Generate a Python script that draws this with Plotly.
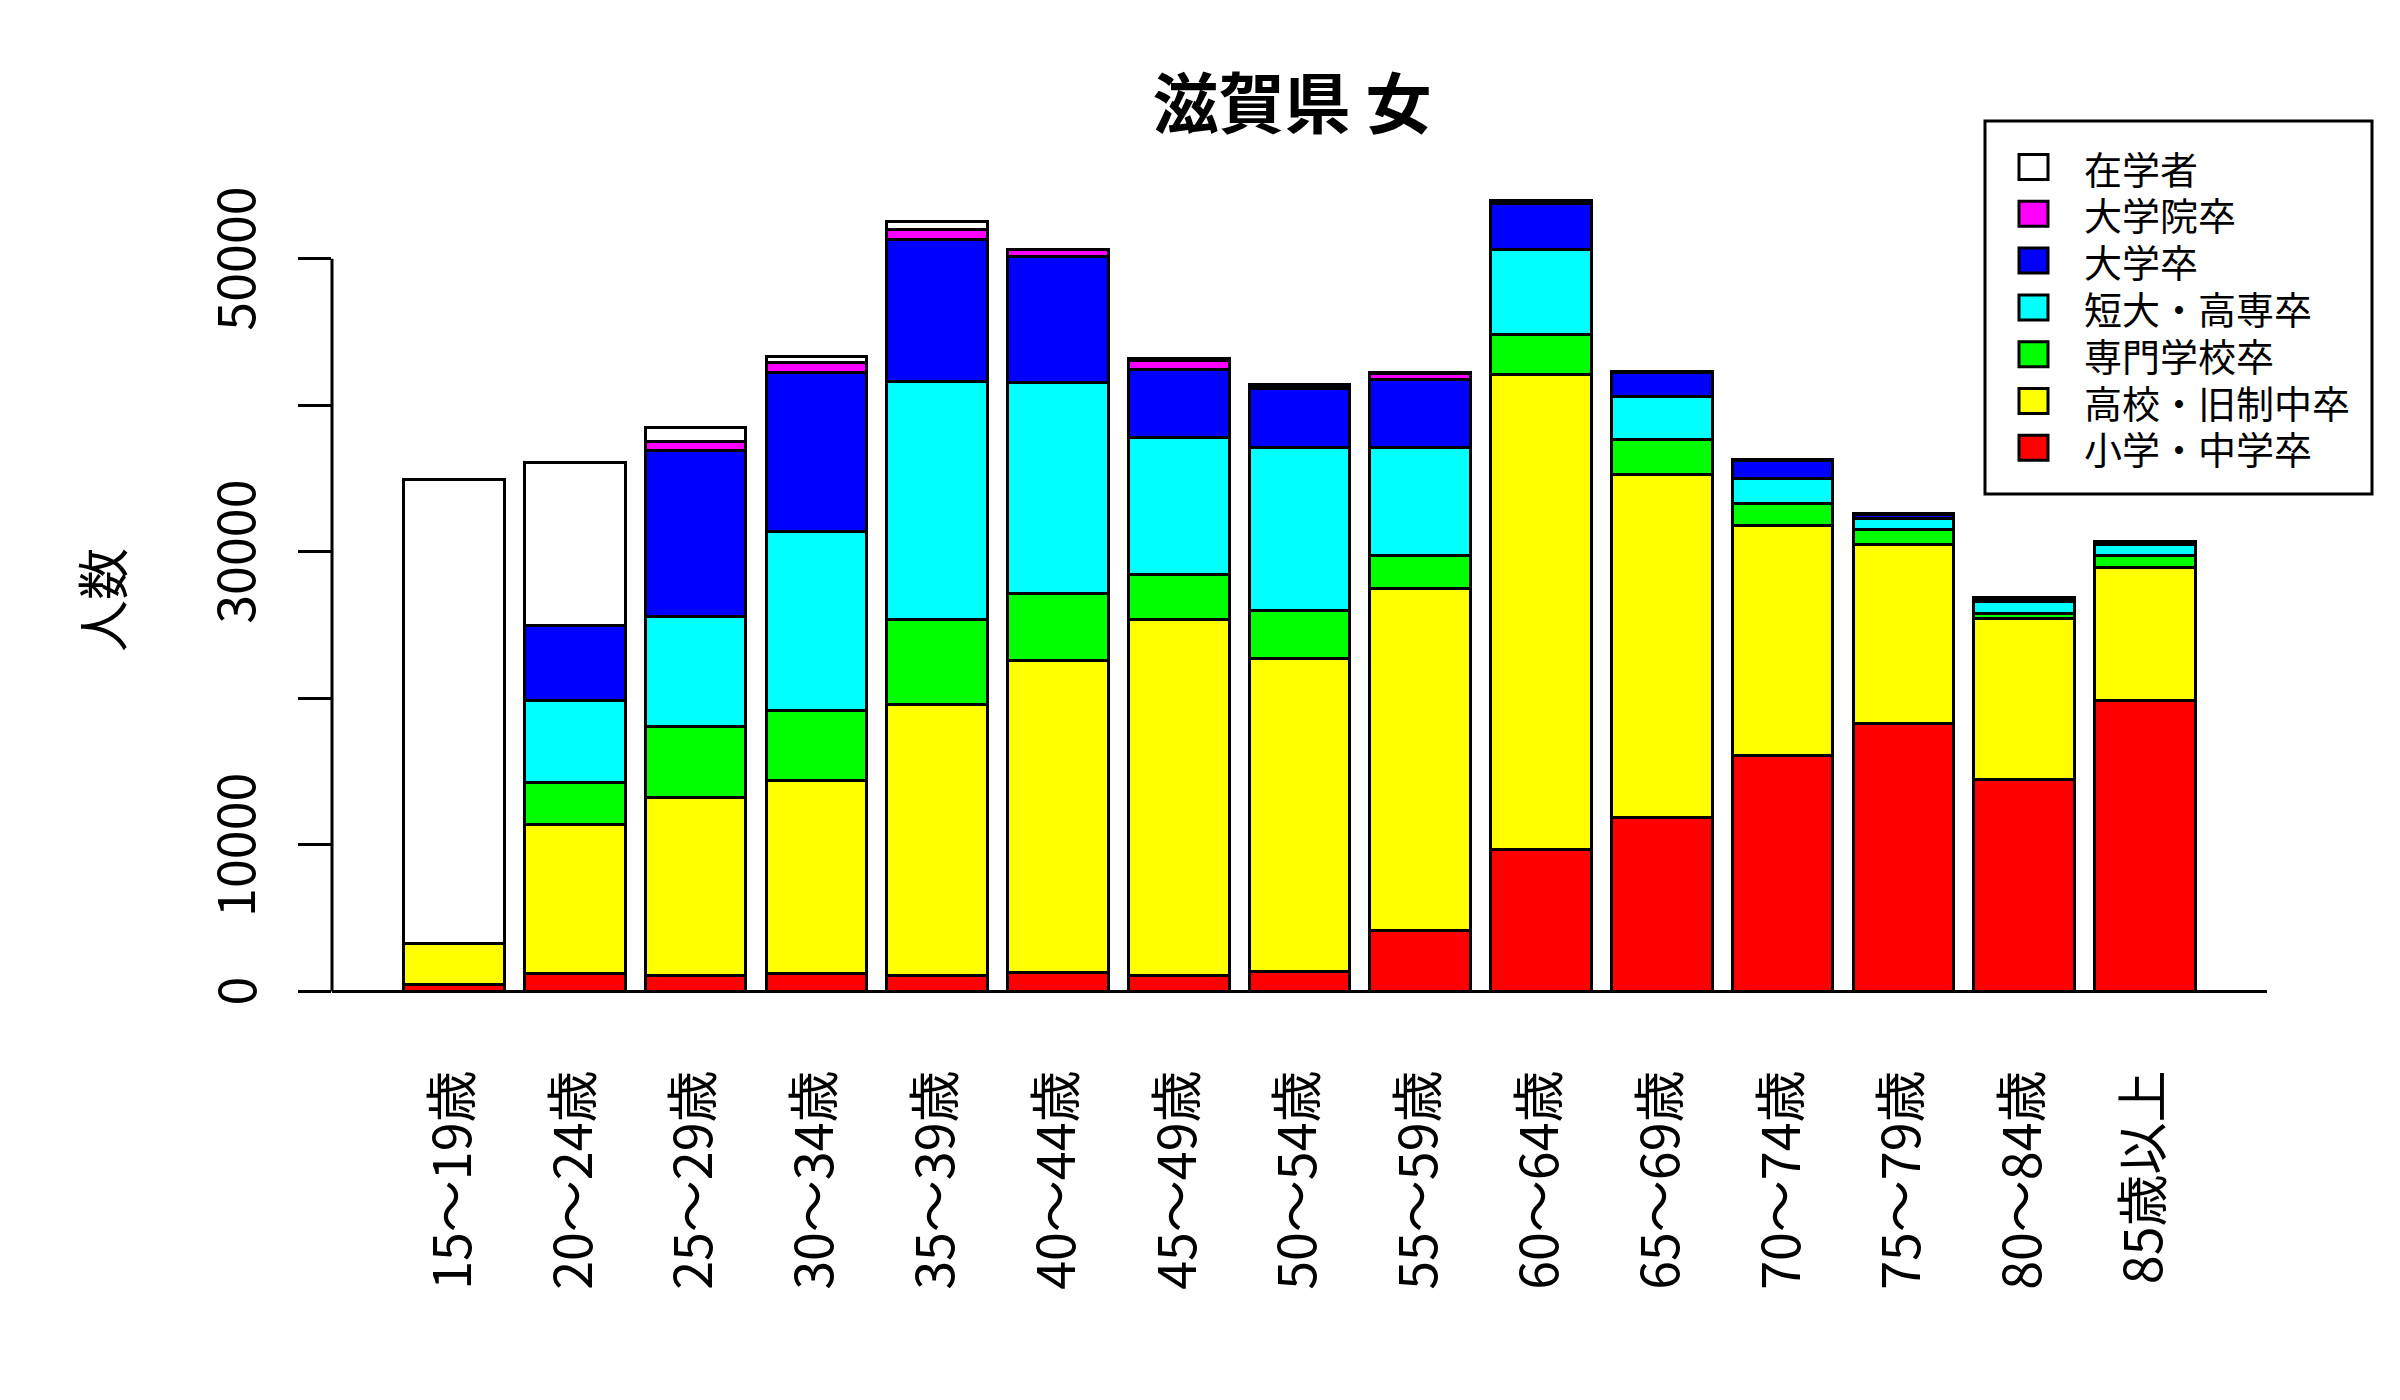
import plotly.graph_objects as go

# ---------------- data ----------------
age_groups = ["15～19歳", "20～24歳", "25～29歳", "30～34歳", "35～39歳", "40～44歳",
              "45～49歳", "50～54歳", "55～59歳", "60～64歳", "65～69歳", "70～74歳",
              "75～79歳", "80～84歳", "85歳以上"]

elementary = [500, 1260, 1080, 1260, 1120, 1300, 1080, 1370, 4150, 9710, 11850, 16070, 18310, 14450, 19830]
high_school = [2750, 10120, 12140, 13150, 18450, 21310, 24310, 21380, 23370, 32360, 23400, 15710, 12210, 10970, 9130]
vocational = [0, 2850, 4840, 4770, 5780, 4550, 3030, 3220, 2240, 2780, 2380, 1550, 970, 400, 800]
junior_college = [0, 5600, 7540, 12240, 16290, 14410, 9390, 11160, 7370, 5780, 3000, 1700, 800, 800, 720]
university = [0, 5120, 11340, 10800, 9680, 8590, 4660, 4040, 4620, 3110, 1620, 1230, 280, 210, 140]
graduate = [0, 30, 580, 720, 680, 440, 580, 180, 390, 120, 50, 30, 20, 20, 20]
students = [31670, 11110, 940, 400, 510, 0, 110, 70, 110, 100, 30, 30, 30, 30, 30]

series_names = ["小学・中学卒", "高校・旧制中卒", "専門学校卒", "短大・高専卒", "大学卒", "大学院卒", "在学者"]
series_values = [elementary, high_school, vocational, junior_college, university, graduate, students]
series_colors = ["#FF0000", "#FFFF00", "#00FF00", "#00FFFF", "#0000FF", "#FF00FF", "#FFFFFF"]

y_tick_values = [0, 10000, 20000, 30000, 40000, 50000]
y_tick_labels = ["0", "10000", "", "30000", "", "50000"]

title_text = "滋賀県 女"
y_title = "人数"

# ---------------- layout geometry ----------------
W, H = 2400, 1400
PL, PR, PT, PB = 332, 2267, 169, 1023
FONT = "Noto Sans CJK JP"


def px_x(px):
    return (px - PL) / (PR - PL)


def px_y(py):
    return (PB - py) / (PB - PT)


fig = go.Figure()
for name, vals, col in zip(series_names, series_values, series_colors):
    fig.add_trace(go.Bar(
        x=age_groups, y=vals, name=name,
        marker=dict(color=col, line=dict(color="black", width=3)),
        showlegend=False,
    ))

shapes = []
annotations = []

# baseline at 0 across plot
shapes.append(dict(type="line", xref="paper", yref="y", x0=0, x1=1, y0=0, y1=0,
                   line=dict(color="black", width=3)))
# y axis line (0 .. 50000)
shapes.append(dict(type="line", xref="paper", yref="y", x0=0, x1=0,
                   y0=y_tick_values[0], y1=y_tick_values[-1],
                   line=dict(color="black", width=3)))

# y tick labels (rotated, R style)
for v, t in zip(y_tick_values, y_tick_labels):
    if t:
        annotations.append(dict(xref="paper", yref="y", x=0, y=v, xshift=-99,
                                text=t, showarrow=False, textangle=-90,
                                xanchor="center", yanchor="middle",
                                font=dict(family=FONT, size=52, color="black")))

# y axis title
annotations.append(dict(xref="paper", yref="paper", x=0, y=px_y(600), xshift=-232,
                        text=y_title, showarrow=False, textangle=-90,
                        xanchor="center", yanchor="middle",
                        font=dict(family=FONT, size=52, color="black")))

# custom legend (R style box)
shapes.append(dict(type="rect", xref="paper", yref="paper",
                   x0=px_x(1985), x1=px_x(2372), y0=px_y(121), y1=px_y(494),
                   line=dict(color="black", width=3), fillcolor="white"))
legend_order = list(range(len(series_names)))[::-1]
row0, row_step = 167, 46.8
for k, idx in enumerate(legend_order):
    cy = row0 + k * row_step
    shapes.append(dict(type="rect", xref="paper", yref="paper",
                       x0=px_x(2019), x1=px_x(2048), y0=px_y(cy + 12.5), y1=px_y(cy - 12.5),
                       line=dict(color="black", width=3), fillcolor=series_colors[idx]))
    annotations.append(dict(xref="paper", yref="paper", x=px_x(2082), y=px_y(cy),
                            text=series_names[idx], showarrow=False,
                            xanchor="left", yanchor="middle",
                            font=dict(family=FONT, size=38, color="black")))

fig.update_layout(
    width=W, height=H,
    margin=dict(l=PL, r=W - PR, t=PT, b=H - PB, pad=0),
    barmode="stack", bargap=1 - 1 / 1.2,
    paper_bgcolor="white", plot_bgcolor="white",
    title=dict(text="<b>" + title_text + "</b>", x=1292 / W, xref="container",
               y=1 - 105 / H, yref="container", xanchor="center", yanchor="middle",
               font=dict(family=FONT, size=66, color="black")),
    xaxis=dict(type="category", range=[-1.01, 15.01], showgrid=False, zeroline=False,
               showline=False, ticks="", tickangle=-90, ticklabelstandoff=36,
               tickfont=dict(family=FONT, size=52, color="black")),
    yaxis=dict(range=[-2150, 56120], showgrid=False, zeroline=False, showline=False,
               tickmode="array", tickvals=y_tick_values, ticks="outside", ticklen=33,
               tickwidth=3, tickcolor="black", showticklabels=False),
    shapes=shapes, annotations=annotations,
    font=dict(family=FONT, color="black"),
)

fig.write_html("out.html", config={"displayModeBar": False},
               post_script="document.body.style.margin='0';document.body.style.padding='0';")
